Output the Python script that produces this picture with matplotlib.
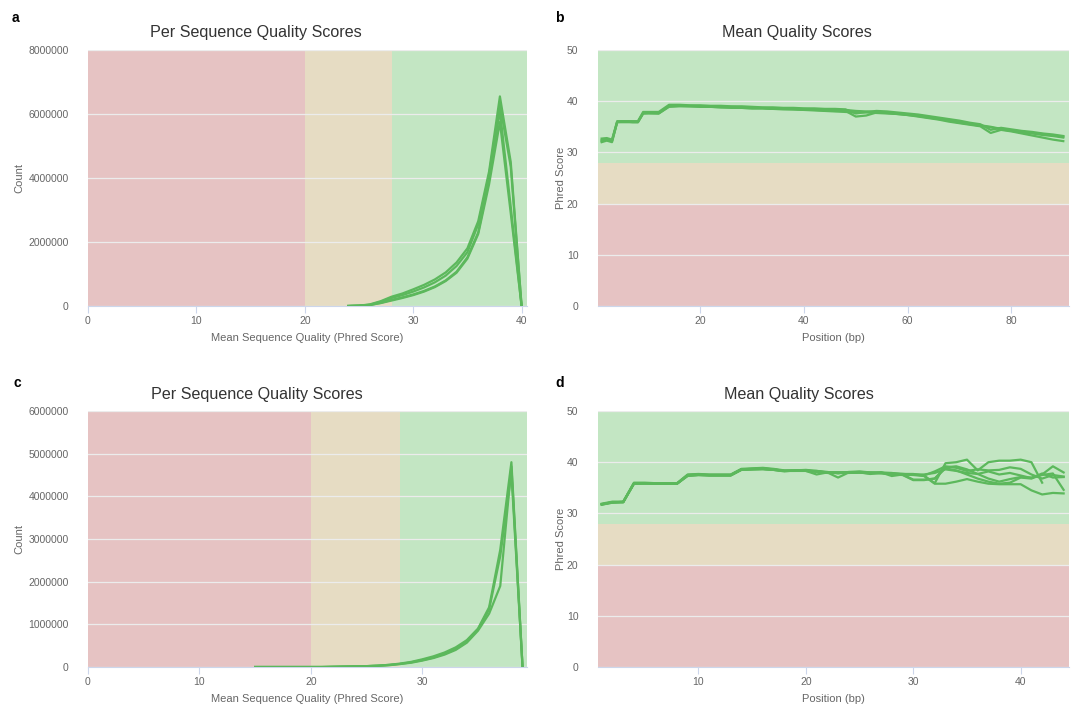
import matplotlib
matplotlib.use("Agg")
import matplotlib.pyplot as plt
import numpy as np

plt.rcParams['font.family'] = ['Liberation Sans', 'DejaVu Sans']

# ---- per sequence quality scores (counts, millions) ----
qual_a = list(range(24, 41))
counts_a = [
    [0, 0.01, 0.05, 0.15, 0.29, 0.39, 0.52, 0.66, 0.83, 1.05, 1.36, 1.80, 2.65, 4.20, 6.55, 4.50, 0],
    [0, 0.01, 0.04, 0.13, 0.25, 0.34, 0.45, 0.58, 0.74, 0.95, 1.25, 1.68, 2.55, 4.10, 6.30, 4.35, 0],
    [0, 0.01, 0.03, 0.10, 0.19, 0.27, 0.36, 0.47, 0.61, 0.80, 1.07, 1.52, 2.30, 3.95, 6.10, 3.10, 0],
    [0, 0.01, 0.03, 0.09, 0.17, 0.25, 0.34, 0.45, 0.59, 0.78, 1.04, 1.48, 2.25, 3.80, 5.75, 2.90, 0],
]

qual_c = list(range(15, 40))
counts_c = [
    [0, 0, 0, 0, 0, 0, 0, 0.005, 0.01, 0.015, 0.02, 0.03, 0.05, 0.08, 0.12, 0.18, 0.25, 0.34, 0.46, 0.63, 0.90, 1.40, 2.75, 4.80, 0],
    [0, 0, 0, 0, 0, 0, 0, 0.005, 0.01, 0.015, 0.02, 0.03, 0.05, 0.07, 0.11, 0.16, 0.22, 0.31, 0.42, 0.60, 0.88, 1.35, 2.60, 4.55, 0],
    [0, 0, 0, 0, 0, 0, 0, 0.005, 0.01, 0.015, 0.02, 0.03, 0.04, 0.07, 0.10, 0.15, 0.21, 0.29, 0.40, 0.57, 0.85, 1.25, 1.90, 4.70, 0],
]

# ---- mean quality per position ----
pos_b = list(range(1, 10)) + list(range(10, 91, 2))
mean_b = [
    [32.4, 32.6, 32.3, 36.0, 36.0, 36.0, 36.0, 36.0, 37.7,
     37.8, 37.7, 39.1, 39.1, 39.1, 39.0, 39.0, 38.9, 38.9, 38.8, 38.7, 38.7, 38.6, 38.6, 38.5, 38.5,
     38.4, 38.4, 38.3, 38.3, 38.1, 38.0, 37.9, 37.8, 37.6, 37.4, 37.2, 36.9, 36.6, 36.3, 36.0, 35.6,
     35.3, 35.0, 34.6, 34.3, 34.1, 33.8, 33.6, 33.3, 33.1],
    [32.0, 32.3, 32.0, 35.9, 35.9, 35.9, 35.9, 35.9, 37.6,
     37.6, 37.6, 38.9, 39.0, 39.0, 38.9, 38.9, 38.8, 38.7, 38.7, 38.6, 38.6, 38.5, 38.5, 38.4, 38.3,
     38.3, 38.2, 38.1, 38.1, 37.0, 37.2, 37.8, 37.7, 37.5, 37.3, 37.0, 36.7, 36.4, 36.0, 35.7, 35.4,
     35.1, 33.8, 34.4, 34.1, 33.7, 33.3, 32.9, 32.5, 32.2],
    [32.7, 32.8, 32.5, 36.1, 36.1, 36.1, 36.1, 36.1, 37.9,
     37.9, 37.9, 39.3, 39.3, 39.2, 39.2, 39.1, 39.1, 39.0, 39.0, 38.9, 38.8, 38.8, 38.7, 38.7, 38.6,
     38.6, 38.5, 38.5, 38.4, 37.6, 37.9, 38.1, 38.0, 37.8, 37.6, 37.4, 37.1, 36.8, 36.5, 36.2, 35.8,
     35.5, 34.4, 34.8, 34.5, 34.2, 34.0, 33.7, 33.5, 33.2],
    [32.2, 32.5, 32.2, 35.9, 36.0, 36.0, 35.9, 35.9, 37.6,
     37.7, 37.6, 39.0, 39.1, 39.0, 39.0, 38.9, 38.8, 38.8, 38.7, 38.6, 38.6, 38.5, 38.4, 38.4, 38.3,
     38.2, 38.1, 38.0, 37.9, 37.8, 37.8, 37.7, 37.6, 37.5, 37.3, 37.1, 36.8, 36.5, 36.2, 35.8, 35.5,
     35.2, 34.9, 34.5, 34.2, 33.9, 33.7, 33.4, 33.2, 32.9],
]

pos_d = list(range(1, 45))
mean_d = [
    [31.8, 32.2, 32.2, 35.9, 35.9, 35.8, 35.8, 35.8, 37.5, 37.6,
     37.5, 37.5, 37.5, 38.6, 38.7, 38.8, 38.6, 38.3, 38.3, 38.4,
     38.2, 38.0, 38.0, 38.0, 38.1, 38.0, 37.9, 37.8, 37.7, 37.6,
     37.4, 35.9, 39.8, 40.0, 40.5, 38.4, 40.0, 40.3, 40.3, 40.5, 40.0, 36.0],
    [31.7, 32.1, 32.3, 35.8, 35.9, 35.9, 35.8, 35.8, 37.3, 37.5,
     37.4, 37.4, 37.4, 38.5, 38.6, 38.7, 38.5, 38.2, 38.4, 38.3,
     37.6, 38.0, 37.0, 38.0, 38.0, 37.7, 38.0, 37.3, 37.6, 36.6,
     36.6, 36.8, 38.8, 38.4, 37.6, 36.8, 36.2, 35.8, 36.0, 37.0, 36.8, 37.6, 39.2, 38.0],
    [31.9, 32.3, 32.3, 36.0, 36.0, 35.9, 35.9, 35.9, 37.6, 37.7,
     37.6, 37.6, 37.6, 38.7, 38.8, 38.9, 38.7, 38.4, 38.4, 38.5,
     38.3, 38.1, 37.8, 38.1, 38.2, 38.0, 38.0, 37.9, 37.6, 37.5,
     37.3, 35.8, 35.8, 36.2, 36.7, 36.2, 35.8, 35.7, 35.7, 35.7, 34.5, 33.7, 34.0, 33.9],
    [31.8, 32.2, 32.2, 35.9, 35.9, 35.9, 35.8, 35.8, 37.4, 37.5,
     37.5, 37.5, 37.5, 38.6, 38.6, 38.7, 38.5, 38.3, 38.4, 38.3,
     38.3, 38.0, 38.0, 37.9, 38.0, 37.9, 38.0, 37.6, 37.5, 36.5,
     36.5, 36.8, 39.0, 39.2, 38.6, 37.7, 36.8, 36.2, 36.7, 37.1, 37.0, 37.5, 37.8, 34.6],
    [31.7, 32.2, 32.2, 35.8, 35.8, 35.8, 35.8, 35.8, 37.4, 37.5,
     37.4, 37.4, 37.4, 38.5, 38.6, 38.6, 38.5, 38.3, 38.3, 38.3,
     38.2, 37.9, 38.0, 38.0, 38.0, 37.8, 37.8, 37.7, 37.7, 37.6,
     37.6, 37.9, 38.6, 38.3, 37.9, 37.7, 38.2, 37.6, 37.9, 37.4, 36.9, 37.8, 37.0, 37.1],
    [31.8, 32.1, 32.2, 35.9, 35.9, 35.8, 35.8, 35.8, 37.5, 37.6,
     37.5, 37.5, 37.5, 38.6, 38.7, 38.7, 38.6, 38.3, 38.3, 38.3,
     38.1, 38.0, 37.9, 38.0, 38.0, 37.9, 37.9, 37.8, 37.7, 37.7,
     37.4, 38.2, 39.2, 38.9, 38.3, 38.6, 38.4, 38.5, 39.0, 38.7, 37.6, 36.8, 37.5, 37.2],
]

RED, AMBER, GREEN = '#e6c3c3', '#e6dcc3', '#c3e6c3'
LINE = '#5cb85c'
W, H = 1075, 707

fig = plt.figure(figsize=(W / 100, H / 100), dpi=100)


def box(l, t, r, b):
    return [l / W, 1 - b / H, (r - l) / W, (b - t) / H]


def style(ax, xlabel, ylabel, ylab_x):
    for s in ['top', 'right', 'left']:
        ax.spines[s].set_visible(False)
    ax.spines['bottom'].set_color('#ccd6eb')
    ax.tick_params(axis='x', colors='#ccd6eb', length=5, width=0.8, pad=2,
                   labelcolor='#666666', labelsize=7.5)
    ax.tick_params(axis='y', length=0, pad=14, labelcolor='#666666', labelsize=7.5)
    ax.yaxis.grid(True, color='#ececec', lw=0.9)
    ax.set_axisbelow(True)
    ax.set_xlabel(xlabel, fontsize=8, color='#666666')
    ax.set_ylabel(ylabel, fontsize=8, color='#666666')
    ax.xaxis.set_label_coords(0.5, -0.105)
    ax.yaxis.set_label_coords(ylab_x, 0.5)


def seq_panel(ax, quals, series, xmax, ymax, ystep):
    ax.axvspan(0, 20, color=RED, zorder=0.2, lw=0)
    ax.axvspan(20, 28, color=AMBER, zorder=0.2, lw=0)
    ax.axvspan(28, xmax, color=GREEN, zorder=0.2, lw=0)
    for s in series:
        ax.plot(quals, np.array(s) * 1e6, color=LINE, lw=1.6, zorder=3)
    ax.set_xlim(0, xmax)
    ax.set_ylim(0, ymax)
    ax.set_xticks([0, 10, 20, 30, 40][: int(xmax // 10) + 1])
    ax.set_yticks(np.arange(0, ymax + 1, ystep))
    ax.set_yticklabels([f"{int(v)}" for v in np.arange(0, ymax + 1, ystep)])
    style(ax, 'Mean Sequence Quality (Phred Score)', 'Count', -0.145)


def mean_panel(ax, pos, series, xlim, xticks):
    ax.axhspan(0, 20, color=RED, zorder=0.2, lw=0)
    ax.axhspan(20, 28, color=AMBER, zorder=0.2, lw=0)
    ax.axhspan(28, 50, color=GREEN, zorder=0.2, lw=0)
    for s in series:
        ax.plot(pos[:len(s)], s, color=LINE, lw=1.6, zorder=3)
    ax.set_xlim(*xlim)
    ax.set_ylim(0, 50)
    ax.set_xticks(xticks)
    ax.set_yticks([0, 10, 20, 30, 40, 50])
    style(ax, 'Position (bp)', 'Phred Score', -0.068)


ax_a = fig.add_axes(box(88, 50, 527, 306))
seq_panel(ax_a, qual_a, counts_a, 40.5, 8000000, 2000000)

ax_b = fig.add_axes(box(598, 50, 1069, 306))
mean_panel(ax_b, pos_b, mean_b, (0.3, 91.1), [20, 40, 60, 80])

ax_c = fig.add_axes(box(88, 411, 527, 667))
seq_panel(ax_c, qual_c, counts_c, 39.4, 6000000, 1000000)

ax_d = fig.add_axes(box(598, 411, 1069, 667))
mean_panel(ax_d, pos_d, mean_d, (0.65, 44.5), [10, 20, 30, 40])

# chart titles and panel letters
for x, y, t in [(256, 33, 'Per Sequence Quality Scores'), (797, 33, 'Mean Quality Scores'),
                (257, 394, 'Per Sequence Quality Scores'), (799, 394, 'Mean Quality Scores')]:
    fig.text(x / W, 1 - y / H, t, ha='center', va='center', fontsize=11.6, color='#333333')
for x, y, t in [(12, 18, 'a'), (555, 18, 'b'), (14, 383, 'c'), (555, 383, 'd')]:
    fig.text(x / W, 1 - y / H, t, ha='left', va='center', fontsize=10,
             fontweight='bold', color='black')

fig.savefig('out.png', dpi=100)
